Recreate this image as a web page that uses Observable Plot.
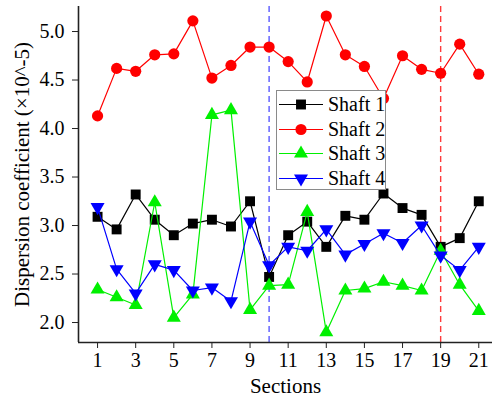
<!DOCTYPE html>
<html>
<head>
<meta charset="utf-8">
<script src="https://cdn.jsdelivr.net/npm/d3@7"></script>
<script src="https://cdn.jsdelivr.net/npm/@observablehq/plot@0.6"></script>
<style>
  html, body { margin: 0; padding: 0; background: #fff; }
  #wrap { position: relative; width: 492px; height: 401px; font-family: "Liberation Serif", "Times New Roman", serif; }
  #legend { position: absolute; left: 276px; top: 90px; width: 108px; height: 98px; border: 1px solid #8a8a8a; background: #fff; box-sizing: content-box; }
  .row { position: absolute; left: 0; height: 25px; display: flex; align-items: center; white-space: nowrap; }
  .row svg { flex: none; }
  .row span { font-size: 20px; margin-left: 5px; line-height: 25px; color: #000; white-space: nowrap; }
</style>
</head>
<body>
<div id="wrap"><div id="legend"></div></div>
<script>
const sections = [1,2,3,4,5,6,7,8,9,10,11,12,13,14,15,16,17,18,19,20,21];
const seriesNames = ["Shaft 1", "Shaft 2", "Shaft 3", "Shaft 4"];
const seriesColors = ["#000000", "#ff0000", "#00f000", "#0000ff"];
const shaft1 = [3.09,2.96,3.32,3.06,2.90,3.02,3.06,2.99,3.25,2.47,2.90,3.04,2.78,3.10,3.06,3.33,3.18,3.11,2.78,2.87,3.25];
const shaft2 = [4.13,4.62,4.59,4.76,4.77,5.11,4.52,4.65,4.84,4.84,4.69,4.48,5.16,4.76,4.64,4.31,4.75,4.61,4.57,4.87,4.56];
const shaft3 = [2.34,2.26,2.18,3.24,2.05,2.29,4.14,4.19,2.13,2.38,2.39,3.14,1.90,2.33,2.35,2.42,2.38,2.33,2.74,2.39,2.12];
const shaft4 = [3.19,2.55,2.30,2.60,2.54,2.33,2.36,2.22,3.04,2.59,2.78,2.74,2.96,2.70,2.81,2.92,2.82,3.00,2.69,2.54,2.78];
const xTicks = [1,3,5,7,9,11,13,15,17,19,21];
const yTicks = [2.0,2.5,3.0,3.5,4.0,4.5,5.0];
const markerLines = [10, 19];
const markerLineColors = ["#5a5aff", "#ff3b3b"];
const xLabel = "Sections";
const yLabel = "Dispersion coefficient (×10^-5)";

const allSeries = [shaft1, shaft2, shaft3, shaft4];
const symbols = ["square", "circle", "triangle", "triangle"];
const rotations = [0, 0, 0, 180];
const radii = [5.6, 5.6, 5.2, 5.2];

const rows = [];
allSeries.forEach((vals, si) => {
  vals.forEach((v, i) => rows.push({series: seriesNames[si], si, x: sections[i], y: v}));
});

const xDomain = [0, 21.72];
const yDomain = [1.794, 5.258];
const font = "Liberation Serif, Times New Roman, serif";

const marks = [];
markerLines.forEach((m, i) => {
  marks.push(Plot.ruleX([m], {stroke: markerLineColors[i], strokeWidth: 1.4, strokeDasharray: "6,4"}));
});
allSeries.forEach((vals, si) => {
  const data = rows.filter(d => d.si === si);
  marks.push(Plot.line(data, {x: "x", y: "y", stroke: seriesColors[si], strokeWidth: 1.2}));
  marks.push(Plot.dot(data, {x: "x", y: "y", symbol: () => symbols[si], r: radii[si], fill: seriesColors[si], stroke: "none", rotate: rotations[si]}));
});
marks.push(Plot.ruleY([yDomain[0]], {stroke: "#222", strokeWidth: 1.6}));
marks.push(Plot.ruleX([xDomain[0]], {stroke: "#222", strokeWidth: 1.6}));
marks.push(Plot.axisX({ticks: xTicks, tickSize: 6, tickPadding: 4, fontSize: 20, label: null, stroke: "#222", tickFormat: d3.format("d")}));
marks.push(Plot.axisY({ticks: yTicks, tickSize: 6, tickPadding: 8, fontSize: 20, label: null, stroke: "#222", tickFormat: d3.format(".1f")}));
marks.push(Plot.text([xLabel], {text: d => d, frameAnchor: "bottom", dy: 50, fontSize: 21, fill: "#000"}));
marks.push(Plot.text([yLabel], {text: d => d, frameAnchor: "left", textAnchor: "middle", dx: -56, rotate: -90, fontSize: 21, fill: "#000"}));

const chart = Plot.plot({
  width: 492,
  height: 401,
  marginTop: 6,
  marginBottom: 59,
  marginLeft: 78,
  marginRight: 0,
  x: {domain: xDomain},
  y: {domain: yDomain},
  symbol: {type: "identity"},
  style: {fontFamily: font, background: "#fff", color: "#000", overflow: "visible"},
  marks
});
document.getElementById("wrap").prepend(chart);

// legend
const legend = document.getElementById("legend");
seriesNames.forEach((name, si) => {
  const row = document.createElement("div");
  row.className = "row";
  row.style.top = (1 + si * 24.6) + "px";
  const svg = d3.create("svg").attr("width", 46).attr("height", 25);
  svg.append("line").attr("x1", 2).attr("x2", 46).attr("y1", 12.5).attr("y2", 12.5)
    .attr("stroke", seriesColors[si]).attr("stroke-width", 1.2);
  const sym = {square: d3.symbolSquare, circle: d3.symbolCircle, triangle: d3.symbolTriangle}[symbols[si]];
  svg.append("path").attr("d", d3.symbol(sym, Math.PI * radii[si] * radii[si])())
    .attr("transform", `translate(24,12.5) rotate(${rotations[si]})`)
    .attr("fill", seriesColors[si]);
  row.appendChild(svg.node());
  const sp = document.createElement("span");
  sp.textContent = name;
  row.appendChild(sp);
  legend.appendChild(row);
});
</script>
</body>
</html>
